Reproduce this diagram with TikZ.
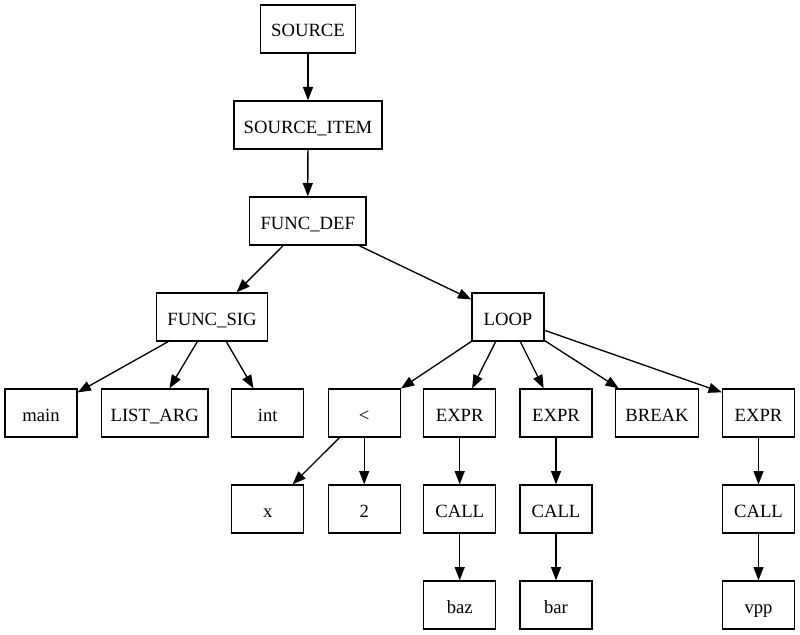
\documentclass[tikz,border=0pt]{standalone}
\usepackage{fontspec}
\setmainfont{Liberation Serif}
\usetikzlibrary{arrows.meta}
\begin{document}
\begin{tikzpicture}[x=0.75pt,y=-0.75pt,
  box/.style={draw=black,line width=1pt,rectangle,inner sep=0pt,minimum width=54pt,minimum height=36pt,text height=13pt,text depth=1pt,font=\fontsize{14}{16}\selectfont},
  edge/.style={draw=black,line width=1pt,-{Triangle[length=10pt,width=7.5pt]}}]
\useasboundingbox (0,0) rectangle (800,635);
\node[box,minimum width=71pt] (source) at (308,29) {SOURCE};
\node[box,minimum width=111pt] (item) at (308,125) {SOURCE\_ITEM};
\node[box,minimum width=87.5pt] (fdef) at (307.7,221) {FUNC\_DEF};
\node[box,minimum width=83pt] (fsig) at (212,317) {FUNC\_SIG};
\node[box] (loop) at (508,317) {LOOP};
\node[box] (main) at (41,413) {main};
\node[box,minimum width=80pt] (larg) at (154.7,413) {LIST\_ARG};
\node[box] (int) at (267.8,413) {int};
\node[box] (lt) at (364.2,413) {<};
\node[box] (e1) at (459.7,413) {EXPR};
\node[box] (e2) at (556,413) {EXPR};
\node[box,minimum width=62pt] (brk) at (657,413) {BREAK};
\node[box] (e3) at (758.5,413) {EXPR};
\node[box] (x) at (267.8,509) {x};
\node[box] (two) at (364.2,509) {2};
\node[box] (c1) at (459.7,509) {CALL};
\node[box] (c2) at (556,509) {CALL};
\node[box] (c3) at (758.5,509) {CALL};
\node[box] (baz) at (459.7,605) {baz};
\node[box] (bar) at (556,605) {bar};
\node[box] (vpp) at (758.5,605) {vpp};
\draw[edge] (source) -- (item);
\draw[edge] (item) -- (fdef);
\draw[edge] (fdef) -- (fsig);
\draw[edge] (fdef) -- (loop);
\draw[edge] (fsig) -- (main);
\draw[edge] (fsig) -- (larg);
\draw[edge] (fsig) -- (int);
\draw[edge] (loop) -- (lt);
\draw[edge] (loop) -- (e1);
\draw[edge] (loop) -- (e2);
\draw[edge] (loop) -- (brk);
\draw[edge] ([yshift=-10pt]loop.east) -- ([yshift=-3pt]e3.north west);
\draw[edge] (lt) -- (x);
\draw[edge] (lt) -- (two);
\draw[edge] (e1) -- (c1);
\draw[edge] (e2) -- (c2);
\draw[edge] (e3) -- (c3);
\draw[edge] (c1) -- (baz);
\draw[edge] (c2) -- (bar);
\draw[edge] (c3) -- (vpp);
\end{tikzpicture}
\end{document}
